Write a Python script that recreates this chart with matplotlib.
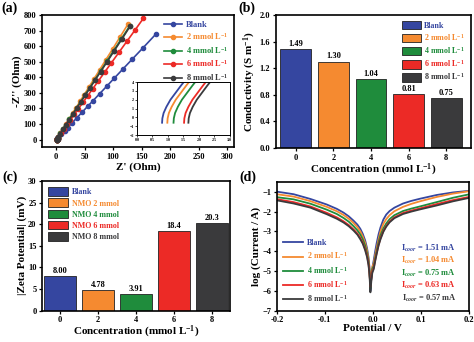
import matplotlib
matplotlib.use('Agg')
import matplotlib.pyplot as plt

plt.rcParams['font.family'] = ['Liberation Serif', 'DejaVu Serif']
plt.rcParams['font.weight'] = 'bold'
plt.rcParams['axes.labelweight'] = 'bold'
plt.rcParams['mathtext.fontset'] = 'custom'
plt.rcParams['mathtext.rm'] = 'Liberation Serif:bold'
plt.rcParams['mathtext.it'] = 'Liberation Serif:bold:italic'
plt.rcParams['mathtext.bf'] = 'Liberation Serif:bold'

colors = ['#3546a0', '#f58a30', '#1f8c3c', '#ec2a26', '#3a3a3c']
labels = ['Blank', '2 mmol L$^{-1}$', '4 mmol L$^{-1}$', '6 mmol L$^{-1}$', '8 mmol L$^{-1}$']

# (a) Nyquist data (first points are the high-frequency part shown in the inset)
blank_zr = [0.81, 0.82, 0.86, 0.95, 1.08, 1.25, 1.42, 1.6, 2.2,
            3.5, 9, 15, 20, 28, 36, 46, 56, 65, 76, 89, 102, 117, 133, 152, 175]
blank_zi = [-0.6, -0.1, 0.5, 1.2, 2.0, 2.8, 3.6, 4.4, 7,
            13, 35, 58, 77, 108, 139, 178, 217, 251, 294, 344, 395, 453, 515, 588, 678]
nmo2_zr = [0.98, 0.99, 1.03, 1.12, 1.25, 1.42, 1.59, 1.77, 2.4,
           3, 7, 12, 17, 23, 29, 35, 42, 49, 57, 66, 76, 87, 99, 112, 126]
nmo2_zi = [-0.6, -0.1, 0.5, 1.2, 2.0, 2.8, 3.6, 4.4, 7.5,
           17, 41, 70, 100, 135, 171, 206, 247, 288, 335, 388, 447, 512, 582, 659, 742]
nmo4_zr = [1.18, 1.19, 1.23, 1.32, 1.45, 1.62, 1.79, 1.97, 2.6,
           3, 7, 12, 17, 23, 29, 36, 43, 51, 59, 68, 78, 89, 101, 114, 129]
nmo4_zi = [-0.6, -0.1, 0.5, 1.2, 2.0, 2.8, 3.6, 4.4, 7.5,
           17, 40, 68, 96, 130, 164, 204, 243, 289, 334, 385, 441, 504, 572, 645, 730]
nmo6_zr = [1.52, 1.53, 1.57, 1.66, 1.79, 1.96, 2.13, 2.31, 2.9,
           3.5, 8, 13, 19, 25, 32, 39, 47, 55, 64, 74, 85, 97, 110, 124, 138, 153]
nmo6_zi = [-0.6, -0.1, 0.5, 1.2, 2.0, 2.8, 3.6, 4.4, 7.5,
           18, 41, 66, 97, 127, 163, 199, 239, 280, 326, 377, 433, 494, 560, 631, 702, 779]
nmo8_zr = [1.66, 1.67, 1.71, 1.80, 1.93, 2.10, 2.27, 2.45, 3.0,
           3.2, 7, 12, 17, 23, 29, 36, 43, 51, 59, 68, 78, 89, 101, 115, 130]
nmo8_zi = [-0.6, -0.1, 0.5, 1.2, 2.0, 2.8, 3.6, 4.4, 7.5,
           17, 39, 67, 95, 129, 162, 202, 241, 286, 330, 381, 437, 498, 566, 644, 730]

# (b) conductivity
conc = [0, 2, 4, 6, 8]
conductivity = [1.49, 1.30, 1.04, 0.81, 0.75]
cond_text = ['1.49', '1.30', '1.04', '0.81', '0.75']

# (c) zeta potential
zeta = [8.00, 4.78, 3.91, 18.4, 20.3]
zeta_text = ['8.00', '4.78', '3.91', '18.4', '20.3']
zeta_labels = ['Blank', 'NMO 2 mmol', 'NMO 4 mmol', 'NMO 6 mmol', 'NMO 8 mmol']

# (d) Tafel curves
potential = [-0.2, -0.165, -0.13, -0.096, -0.075, -0.061, -0.05, -0.04, -0.032, -0.026,
             -0.021, -0.016, -0.012, -0.009, -0.007, -0.005, -0.003, -0.001, 0.002, 0.005,
             0.008, 0.012, 0.016, 0.022, 0.028, 0.035, 0.045, 0.063, 0.08, 0.098,
             0.133, 0.167, 0.2]
tafel_blank = [-0.99, -1.12, -1.36, -1.64, -1.86, -2.05, -2.24, -2.46, -2.66, -2.87,
               -3.12, -3.45, -3.85, -4.3, -4.8, -6.0, -5.3, -4.85, -4.45, -4.0,
               -3.6, -3.15, -2.8, -2.4, -2.15, -1.97, -1.8, -1.59, -1.46, -1.35,
               -1.16, -1.03, -0.95]
tafel_2 = [-1.12, -1.24, -1.47, -1.76, -1.98, -2.17, -2.36, -2.58, -2.79, -3.0,
           -3.25, -3.58, -3.97, -4.4, -4.9, -5.8, -5.2, -4.8, -4.6, -4.2,
           -3.85, -3.4, -3.0, -2.62, -2.38, -2.18, -1.98, -1.76, -1.61, -1.48,
           -1.26, -1.09, -0.97]
tafel_4 = [-1.27, -1.38, -1.6, -1.9, -2.12, -2.32, -2.51, -2.74, -2.95, -3.16,
           -3.4, -3.72, -4.1, -4.5, -5.0, -5.9, -5.3, -4.9, -4.75, -4.35,
           -4.0, -3.55, -3.2, -2.85, -2.6, -2.38, -2.18, -1.97, -1.85, -1.74,
           -1.52, -1.3, -1.13]
tafel_6 = [-1.37, -1.52, -1.74, -2.06, -2.29, -2.49, -2.68, -2.9, -3.11, -3.33,
           -3.56, -3.88, -4.22, -4.62, -5.08, -5.8, -5.4, -5.0, -4.85, -4.45,
           -4.1, -3.68, -3.35, -2.98, -2.72, -2.5, -2.29, -2.07, -1.95, -1.84,
           -1.62, -1.42, -1.26]
tafel_8 = [-1.43, -1.59, -1.8, -2.13, -2.36, -2.55, -2.74, -2.96, -3.17, -3.4,
           -3.62, -3.95, -4.3, -4.7, -5.15, -6.08, -5.5, -5.1, -4.9, -4.5,
           -4.15, -3.72, -3.4, -3.02, -2.76, -2.54, -2.33, -2.12, -2.0, -1.89,
           -1.69, -1.48, -1.31]
icorr_text = ['1.51', '1.04', '0.75', '0.63', '0.57']


def style(ax):
    for s in ax.spines.values():
        s.set_linewidth(1.2)
    ax.tick_params(direction='out', length=2.5, width=0.9, labelsize=6, pad=1.5)


fig = plt.figure(figsize=(4.74, 3.42), dpi=100)

# ---- (a)
ax = fig.add_axes([0.0886, 0.570, 0.405, 0.386])
zr_all = [blank_zr, nmo2_zr, nmo4_zr, nmo6_zr, nmo8_zr]
zi_all = [blank_zi, nmo2_zi, nmo4_zi, nmo6_zi, nmo8_zi]
for zr, zi, c, lab in zip(zr_all, zi_all, colors, labels):
    ax.plot(zr, zi, '-o', color=c, lw=1.2, ms=3, label=lab)
ax.set_xlim(-25, 312)
ax.set_ylim(-48, 800)
ax.set_xticks(range(0, 301, 50))
ax.set_yticks(range(0, 801, 100))
ax.set_xlabel("Z' (Ohm)", fontsize=8, labelpad=1)
ax.set_ylabel("-Z'' (Ohm)", fontsize=8, labelpad=1)
style(ax)
leg = ax.legend(loc='upper right', frameon=False, fontsize=6, handlelength=2.2,
                handletextpad=0.4, labelspacing=0.3, borderaxespad=0.3)
for t, c in zip(leg.get_texts(), colors):
    t.set_color(c)

ins = fig.add_axes([0.289, 0.605, 0.196, 0.155])
for zr, zi, c in zip(zr_all, zi_all, colors):
    ins.plot(zr, zi, '-', color=c, lw=1.3)
ins.set_xlim(0, 3)
ins.set_ylim(-2, 4)
ins.set_xticks([0, 0.5, 1, 1.5, 2, 2.5, 3])
ins.set_xticklabels(['0.0', '0.5', '1.0', '1.5', '2.0', '2.5', '3.0'])
ins.set_yticks(range(-2, 5))
for s in ins.spines.values():
    s.set_linewidth(0.7)
ins.tick_params(direction='out', length=1.2, width=0.5, labelsize=3, pad=0.8)
fig.text(0.002, 0.995, '(a)', fontsize=10, va='top', ha='left')

# ---- (b)
ax = fig.add_axes([0.582, 0.567, 0.411, 0.389])
bars = ax.bar(conc, conductivity, width=1.63, color=colors, edgecolor='#222222',
              linewidth=0.6)
for x, v, s in zip(conc, conductivity, cond_text):
    ax.text(x, v + 0.02, s, ha='center', va='bottom', fontsize=6)
ax.set_xlim(-1.05, 9.3)
ax.set_ylim(0, 2.0)
ax.set_xticks(conc)
ax.set_yticks([0.0, 0.4, 0.8, 1.2, 1.6, 2.0])
ax.set_yticklabels(['0.0', '0.4', '0.8', '1.2', '1.6', '2.0'])
ax.set_xlabel('Concentration (mmol L$^{-1}$)', fontsize=8, labelpad=0.5)
ax.set_ylabel('Conductivity (S m$^{-1}$)', fontsize=8, labelpad=1)
style(ax)
leg = ax.legend(bars, labels, loc='upper right', frameon=False, fontsize=5.8,
                handlelength=2.4, handleheight=1.3, handletextpad=0.4,
                labelspacing=0.25, borderaxespad=0.3)
for t, c in zip(leg.get_texts(), colors):
    t.set_color(c)
fig.text(0.503, 0.995, '(b)', fontsize=10, va='top', ha='left')

# ---- (c)
ax = fig.add_axes([0.0886, 0.092, 0.397, 0.379])
bars = ax.bar(conc, zeta, width=1.7, color=colors, edgecolor='#222222', linewidth=0.6)
for x, v, s in zip(conc, zeta, zeta_text):
    ax.text(x, v + 0.2, s, ha='center', va='bottom', fontsize=6)
ax.set_xlim(-0.95, 8.95)
ax.set_ylim(0, 30)
ax.set_xticks(conc)
ax.set_yticks(range(0, 31, 5))
ax.set_xlabel('Concentration (mmol L$^{-1}$)', fontsize=8, labelpad=0)
ax.set_ylabel('|Zeta Potential| (mV)', fontsize=8, labelpad=1)
style(ax)
leg = ax.legend(bars, zeta_labels, loc='upper left', frameon=False, fontsize=5.8,
                handlelength=2.4, handleheight=1.3, handletextpad=0.5,
                labelspacing=0.25, borderaxespad=0.4)
for t, c in zip(leg.get_texts(), colors):
    t.set_color(c)
fig.text(0.004, 0.50, '(c)', fontsize=10, va='top', ha='left')

# ---- (d)
ax = fig.add_axes([0.584, 0.092, 0.405, 0.376])
tafel_all = [tafel_blank, tafel_2, tafel_4, tafel_6, tafel_8]
for ys, c, lab in zip(tafel_all, colors, labels):
    ax.plot(potential, ys, '-', color=c, lw=1.3, label=lab)
ax.set_xlim(-0.2, 0.2)
ax.set_ylim(-7, -0.5)
ax.set_xticks([-0.2, -0.1, 0.0, 0.1, 0.2])
ax.set_xticklabels(['-0.2', '-0.1', '0.0', '0.1', '0.2'])
ax.set_yticks(range(-7, 0))
ax.set_xlabel('Potential / V', fontsize=8, labelpad=0)
ax.set_ylabel('log (Current / A)', fontsize=8, labelpad=1)
style(ax)
leg = ax.legend(loc='lower left', frameon=False, fontsize=5.8, handlelength=2.4,
                handletextpad=0.5, labelspacing=0.4, borderaxespad=0.4)
for t, c in zip(leg.get_texts(), colors):
    t.set_color(c)
for i, (s, c) in enumerate(zip(icorr_text, colors)):
    ax.text(0.935, 0.485 - i * 0.097, r'I$_{\mathit{coor}}$ = ' + s + ' mA', color=c,
            transform=ax.transAxes, ha='right', va='center', fontsize=6)
fig.text(0.506, 0.50, '(d)', fontsize=10, va='top', ha='left')

fig.savefig('out.png', dpi=100)
